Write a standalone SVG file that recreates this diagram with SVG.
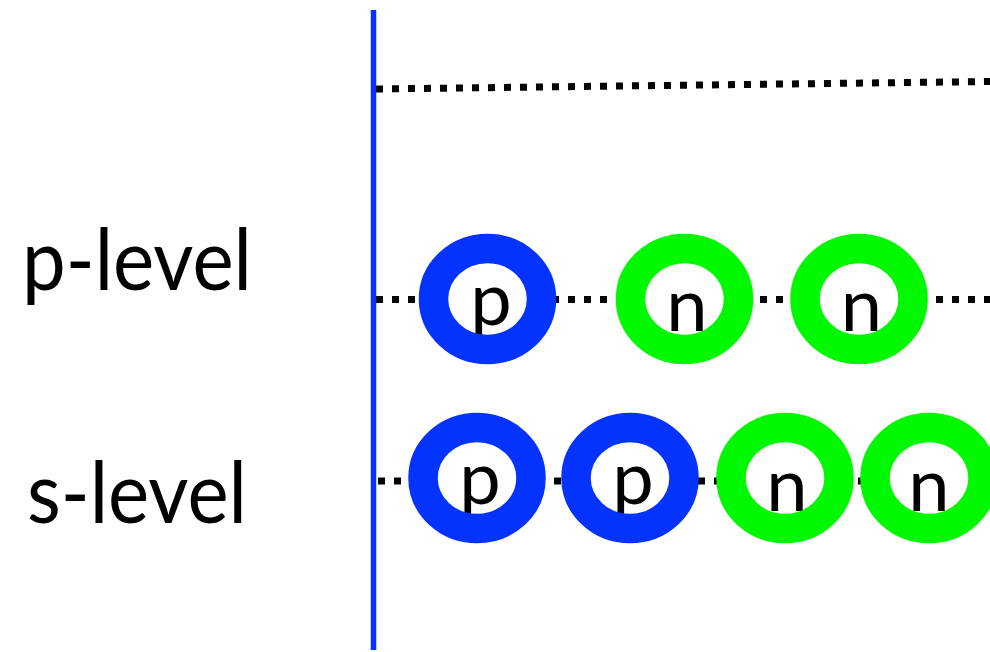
<svg xmlns="http://www.w3.org/2000/svg" width="990" height="652" viewBox="0 0 990 652">
<style>
.dots{fill:none;stroke:#000;stroke-width:7;stroke-dasharray:7 9}
.bg{fill:#fff;stroke:none}
.ringP{fill:none;stroke:#0433FF;stroke-width:29.5}
.ringN{fill:none;stroke:#00F900;stroke-width:29.5}
.lbl{font-family:Lato,"Open Sans","Liberation Sans",sans-serif;font-size:85px;fill:#000}
.nuc{font-family:Lato,"Open Sans","Liberation Sans",sans-serif;font-size:74px;fill:#000;text-anchor:middle}
</style>
<rect width="990" height="652" fill="#fff"/>
<g id="connectors">
<line class="dots" x1="376" y1="89" x2="990" y2="81.5"/>
<line class="dots" x1="376" y1="299.5" x2="990" y2="299.5"/>
<line class="dots" x1="378" y1="481" x2="990" y2="481"/>
</g>
<g id="axis">
<line x1="373.5" y1="10" x2="373.5" y2="650" stroke="#0433FF" stroke-width="5.5"/>
</g>
<g id="label-p">
<text class="lbl" x="22" y="290" textLength="230" lengthAdjust="spacingAndGlyphs">p-level</text>
</g>
<g id="label-s">
<text class="lbl" x="27" y="523" textLength="220" lengthAdjust="spacingAndGlyphs">s-level</text>
</g>
<g id="p1">
<ellipse class="bg" cx="487.5" cy="299" rx="54" ry="50.5"/>
<text class="nuc" x="491" y="325">p</text>
<ellipse class="ringP" cx="487.5" cy="299" rx="54" ry="50.5"/>
</g>
<g id="pn1">
<ellipse class="bg" cx="684.5" cy="299" rx="54" ry="50.5"/>
<text class="nuc" x="687" y="331">n</text>
<ellipse class="ringN" cx="684.5" cy="299" rx="54" ry="50.5"/>
</g>
<g id="pn2">
<ellipse class="bg" cx="859" cy="299" rx="54" ry="50.5"/>
<text class="nuc" x="861.5" y="331">n</text>
<ellipse class="ringN" cx="859" cy="299" rx="54" ry="50.5"/>
</g>
<g id="s1">
<ellipse class="bg" cx="477" cy="478" rx="54" ry="50.5"/>
<text class="nuc" x="480" y="504">p</text>
<ellipse class="ringP" cx="477" cy="478" rx="54" ry="50.5"/>
</g>
<g id="s2">
<ellipse class="bg" cx="630" cy="478" rx="54" ry="50.5"/>
<text class="nuc" x="633" y="504">p</text>
<ellipse class="ringP" cx="630" cy="478" rx="54" ry="50.5"/>
</g>
<g id="s3">
<ellipse class="bg" cx="785" cy="478" rx="54" ry="50.5"/>
<text class="nuc" x="787" y="511">n</text>
<ellipse class="ringN" cx="785" cy="478" rx="54" ry="50.5"/>
</g>
<g id="s4">
<ellipse class="bg" cx="929" cy="478" rx="54" ry="50.5"/>
<text class="nuc" x="929" y="511">n</text>
<ellipse class="ringN" cx="929" cy="478" rx="54" ry="50.5"/>
</g>
</svg>
